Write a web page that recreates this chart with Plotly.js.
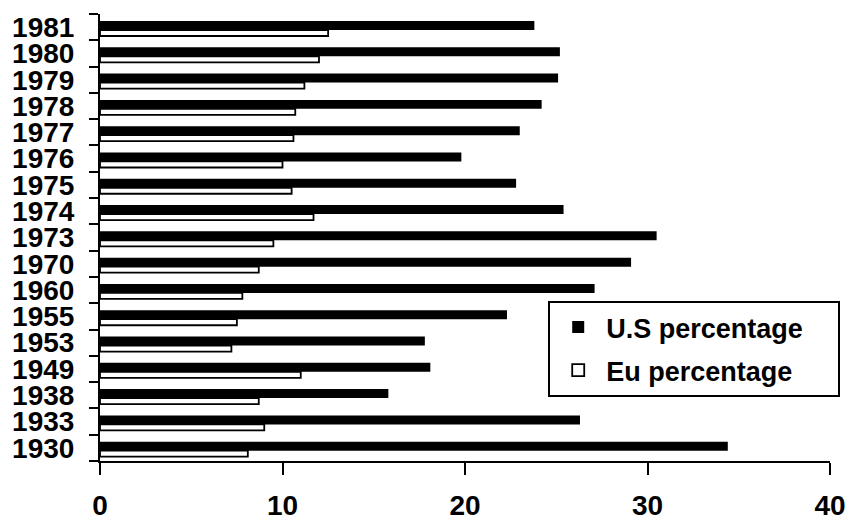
<!DOCTYPE html>
<html>
<head>
<meta charset="utf-8">
<script src="https://cdn.plot.ly/plotly-3.0.1.min.js"></script>
<style>html,body{margin:0;padding:0;background:#fff;}#chart{width:853px;height:520px;}</style>
</head>
<body>
<div id="chart"></div>
<script>
const years = ["1930","1933","1938","1949","1953","1955","1960","1970","1973","1974","1975","1976","1977","1978","1979","1980","1981"];
const usPercentage = [34.4, 26.3, 15.8, 18.1, 17.8, 22.3, 27.1, 29.1, 30.5, 25.4, 22.8, 19.8, 23.0, 24.2, 25.1, 25.2, 23.8];
const euPercentage = [8.1, 9.0, 8.7, 11.0, 7.2, 7.5, 7.8, 8.7, 9.5, 11.7, 10.5, 10.0, 10.6, 10.7, 11.2, 12.0, 12.5];
const xTicks = [0, 10, 20, 30, 40];
const seriesNames = ['U.S percentage', 'Eu percentage'];

const fontFam = '"Liberation Sans", Arial, sans-serif';
const pad = '\u00a0\u00a0\u00a0\u00a0';

const traces = [
  {
    type: 'bar', orientation: 'h', name: seriesNames[0] + pad, legendgroup: 'a',
    y: years, x: usPercentage,
    offset: -0.108, width: 0.342,
    marker: {color: '#000000', line: {color: '#000000', width: 0}}
  },
  {
    type: 'bar', orientation: 'h', name: seriesNames[1] + pad, legendgroup: 'b',
    y: years, x: euPercentage,
    offset: -0.337, width: 0.229,
    marker: {color: '#ffffff', line: {color: '#000000', width: 1.8}}
  }
];

const layout = {
  width: 853, height: 520,
  margin: {l: 100, r: 23, t: 14, b: 59},
  paper_bgcolor: '#ffffff', plot_bgcolor: '#ffffff',
  barmode: 'overlay',
  font: {family: fontFam, color: '#000000'},
  showlegend: true,
  legend: {
    x: 0.614, y: 0.358, xanchor: 'left', yanchor: 'top',
    traceorder: 'grouped', tracegroupgap: 5, itemwidth: 46,
    bgcolor: '#ffffff', bordercolor: '#000000', borderwidth: 2,
    font: {family: fontFam, size: 27, color: '#000000', weight: 'bold'}
  },
  xaxis: {
    range: [0, 40], tickmode: 'array', tickvals: xTicks, ticktext: xTicks.map(String),
    showgrid: false, zeroline: false,
    showline: true, linecolor: '#000000', linewidth: 2,
    ticks: 'outside', ticklen: 12, tickwidth: 2, tickcolor: '#000000',
    ticklabelstandoff: 6,
    tickfont: {family: fontFam, size: 28, color: '#000000', weight: 'bold'},
    fixedrange: true
  },
  yaxis: {
    type: 'category', categoryorder: 'array', categoryarray: years,
    tickmode: 'array', tickvals: years, ticktext: years,
    range: [-0.5, years.length - 0.5],
    showgrid: false, zeroline: false,
    showline: true, linecolor: '#000000', linewidth: 2,
    ticks: 'outside', tickson: 'boundaries', ticklen: 9, tickwidth: 2, tickcolor: '#000000',
    ticklabelstandoff: 18,
    tickfont: {family: fontFam, size: 28, color: '#000000', weight: 'bold'},
    fixedrange: true
  }
};

Plotly.newPlot('chart', traces, layout, {displayModeBar: false, staticPlot: true});
</script>
</body>
</html>
